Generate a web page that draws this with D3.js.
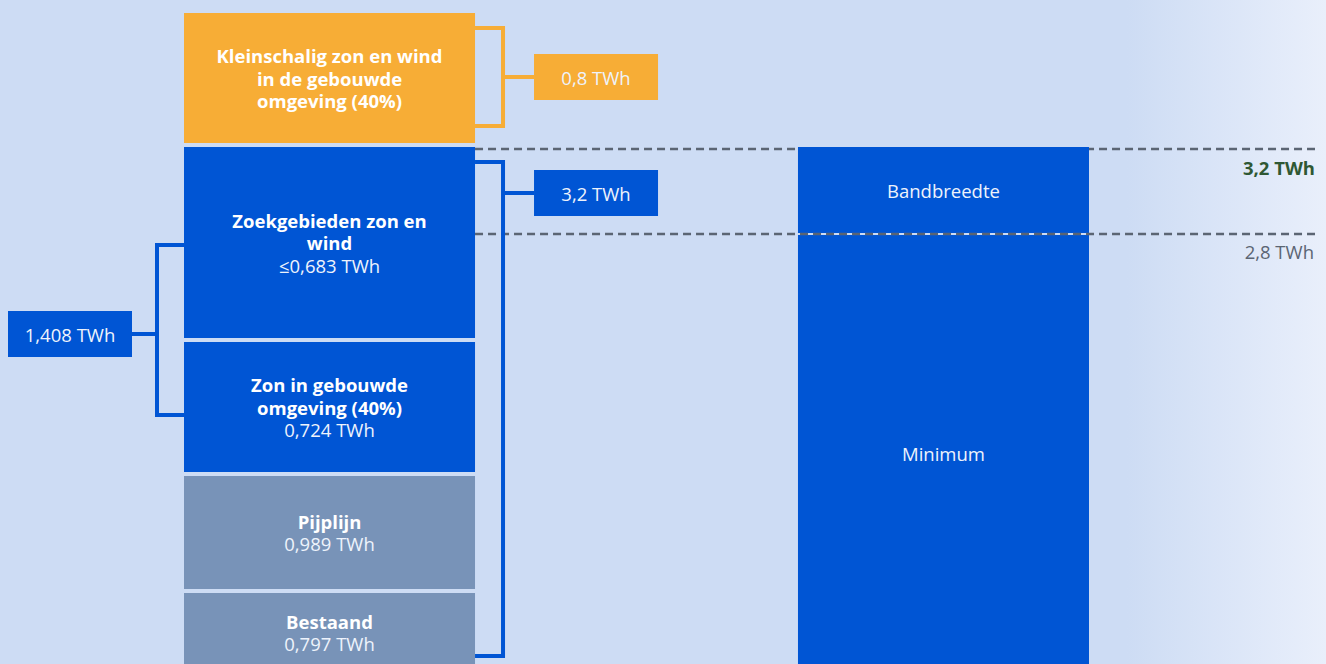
<!DOCTYPE html>
<html lang="nl">
<head>
<meta charset="UTF-8">
<title>Opwek versus bandbreedte</title>
<script src="https://d3js.org/d3.v7.min.js"></script>
<style>
	html, body { margin: 0; padding: 0; overflow: hidden; }
	body { width: 1326px; height: 664px; }
	svg { display: block; font-family: "Open Sans", sans-serif; }
	.lbl { fill: #eef3fc; font-size: 18.5px; text-anchor: middle; dominant-baseline: central; }
	.lbl-b { fill: #ffffff; font-size: 18.5px; font-weight: 700; text-anchor: middle; dominant-baseline: central; }
	.dash { stroke: #5b6573; stroke-width: 2.5px; stroke-dasharray: 8 5; fill: none; }
	.brk { fill: none; stroke-width: 4px; }
</style>
</head>
<body>
<script>
	// --- data ---
	const blockNames = [
		["Kleinschalig zon en wind", "in de gebouwde", "omgeving (40%)"],
		["Zoekgebieden zon en", "wind"],
		["Zon in gebouwde", "omgeving (40%)"],
		["Pijplijn"],
		["Bestaand"]
	];
	const blockValues = [0.8, 0.683, 0.724, 0.989, 0.797];
	const blockPrefix = ["", "≤", "", "", ""];
	const blockShowValue = [false, true, true, true, true];
	const blockKind = ["klein", "nieuw", "nieuw", "bestaand", "bestaand"];

	const groupTotals = [0.8, 3.2, 1.408];
	const groupDecimals = [1, 1, 3];

	const targetNames = ["Bandbreedte", "Minimum"];
	const targetMin = 2.8;
	const targetMax = 3.2;

	// --- layout ---
	const width = 1326, height = 664;
	const colors = { klein: "#f7ad36", nieuw: "#0055d4", bestaand: "#7893b8" };
	const blockUnits = [130, 191, 130, 113, 79]; // drawn heights, not to scale
	const gap = 4;

	const fmt = (v, d) => d3.format("." + d + "f")(v).replace(".", ",") + " TWh";

	const svg = d3.select("body").append("svg")
		.attr("width", width)
		.attr("height", height);

	const defs = svg.append("defs");
	const grad = defs.append("linearGradient").attr("id", "bg")
		.attr("x1", 0).attr("x2", 1).attr("y1", 0).attr("y2", 0);
	grad.append("stop").attr("offset", "0%").attr("stop-color", "#cddcf4");
	grad.append("stop").attr("offset", "85%").attr("stop-color", "#cddcf4");
	grad.append("stop").attr("offset", "100%").attr("stop-color", "#e9effb");
	svg.append("rect").attr("width", width).attr("height", height).attr("fill", "url(#bg)");

	const x = d3.scaleBand()
		.domain(["mix", "doel"])
		.range([184, 1089])
		.paddingInner(0.526)
		.paddingOuter(0);

	// value scale of the target bar
	const y = d3.scaleLinear()
		.domain([targetMin, targetMax])
		.range([234, 147]);

	// left stack: blue part starts at the top of the target range
	const stack = [];
	let cursor = y(targetMax) - gap - blockUnits[0];
	blockNames.forEach((n, i) => {
		stack.push({ i, top: cursor, h: blockUnits[i] });
		cursor += blockUnits[i] + gap;
	});

	// dashed line at the upper bound (behind bars)
	svg.append("line").attr("class", "dash")
		.attr("x1", x("mix") + x.bandwidth()).attr("x2", 1315)
		.attr("y1", y(targetMax) + 2).attr("y2", y(targetMax) + 2);

	// --- left stacked column ---
	const blocks = svg.append("g").selectAll("g")
		.data(stack)
		.join("g");

	blocks.append("rect")
		.attr("x", x("mix"))
		.attr("y", d => d.top)
		.attr("width", x.bandwidth())
		.attr("height", d => d.h)
		.attr("fill", d => colors[blockKind[d.i]]);

	const lh = 22.5;
	blocks.each(function (d) {
		const g = d3.select(this);
		const lines = blockNames[d.i].map(t => ({ t, bold: true }));
		if (blockShowValue[d.i]) lines.push({ t: blockPrefix[d.i] + fmt(blockValues[d.i], 3), bold: false });
		const cy = d.top + d.h / 2 - (lines.length - 1) * lh / 2;
		lines.forEach((l, k) => {
			g.append("text")
				.attr("class", l.bold ? "lbl-b" : "lbl")
				.attr("x", x("mix") + x.bandwidth() / 2)
				.attr("y", cy + k * lh)
				.text(l.t);
		});
	});

	// --- target column ---
	const xr = x("doel");
	const tgt = [
		{ name: targetNames[0], top: y(targetMax), bottom: y(targetMin) - 1 },
		{ name: targetNames[1], top: y(targetMin) + 1, bottom: stack[4].top + stack[4].h }
	];
	const tg = svg.append("g").selectAll("g").data(tgt).join("g");
	tg.append("rect")
		.attr("x", xr).attr("width", x.bandwidth())
		.attr("y", d => d.top).attr("height", d => d.bottom - d.top)
		.attr("fill", colors.nieuw);
	tg.append("text")
		.attr("class", "lbl")
		.attr("x", xr + x.bandwidth() / 2)
		.attr("y", d => (d.top + d.bottom) / 2)
		.text(d => d.name);

	// dashed line at the minimum (over the bar)
	svg.append("line").attr("class", "dash")
		.attr("x1", x("mix") + x.bandwidth()).attr("x2", 1315)
		.attr("y1", y(targetMin)).attr("y2", y(targetMin));

	svg.append("text")
		.attr("x", 1315).attr("y", y(targetMax) + 20)
		.attr("text-anchor", "end").attr("dominant-baseline", "central")
		.attr("font-size", 18.5).attr("font-weight", 700).attr("fill", "#2f5834")
		.text(fmt(targetMax, 1));
	svg.append("text")
		.attr("x", 1314).attr("y", y(targetMin) + 17)
		.attr("text-anchor", "end").attr("dominant-baseline", "central")
		.attr("font-size", 18.5).attr("fill", "#5b6573")
		.text(fmt(targetMin, 1));

	// --- brackets with total labels ---
	const boxW = 124, boxH = 46;
	const right = x("mix") + x.bandwidth();
	const brackets = [
		{ side: "r", y0: stack[0].top + 15, y1: stack[0].top + stack[0].h - 17, cy: null, color: colors.klein },
		{ side: "r", y0: stack[1].top + 15, y1: stack[4].top + stack[4].h - 16, cy: stack[1].top + 46, color: colors.nieuw },
		{ side: "l", y0: stack[1].top + 98, y1: stack[2].top + stack[2].h - 57, cy: stack[1].top + 187, color: colors.nieuw }
	];
	brackets.forEach((b, i) => {
		const cy = b.cy != null ? b.cy : (b.y0 + b.y1) / 2;
		const g = svg.append("g");
		let bx, edge, boxX;
		if (b.side === "r") { edge = right; bx = right + 28; boxX = bx + 31; }
		else { edge = x("mix"); bx = edge - 27; boxX = bx - 25 - boxW; }
		g.append("path").attr("class", "brk").attr("stroke", b.color)
			.attr("d", `M${edge},${b.y0}H${bx}V${b.y1}H${edge}`);
		const cx2 = b.side === "r" ? boxX : boxX + boxW;
		g.append("line").attr("stroke", b.color).attr("stroke-width", 4)
			.attr("x1", bx).attr("x2", cx2).attr("y1", cy).attr("y2", cy);
		g.append("rect").attr("x", boxX).attr("y", cy - boxH / 2)
			.attr("width", boxW).attr("height", boxH).attr("fill", b.color);
		g.append("text").attr("class", "lbl")
			.attr("x", boxX + boxW / 2).attr("y", cy)
			.text(fmt(groupTotals[i], groupDecimals[i]));
	});
</script>
</body>
</html>
